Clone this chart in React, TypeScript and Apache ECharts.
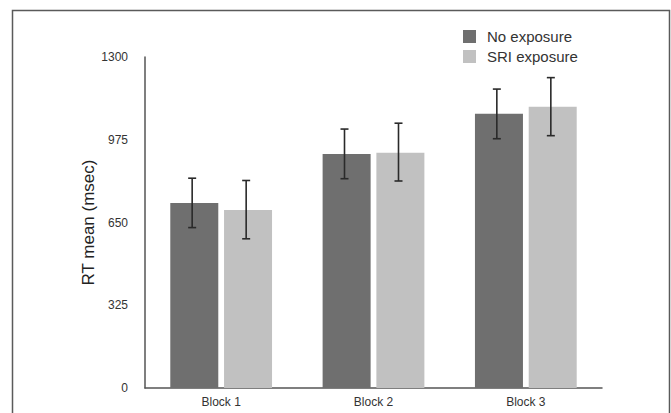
import React, { useEffect, useRef } from "react";
import * as echarts from "echarts";

const categories = ["Block 1", "Block 2", "Block 3"];
const seriesNames = ["No exposure", "SRI exposure"];
const noExposure = [727, 919, 1077];
const sriExposure = [699, 924, 1105];
const noExposureErr = [[630, 824], [822, 1017], [979, 1174]];
const sriExposureErr = [[586, 815], [813, 1040], [991, 1219]];
const yTicks = [0, 325, 650, 975, 1300];

const DARK = "#6f6f6f";
const LIGHT = "#c1c1c1";

export default function App() {
  const ref = useRef<HTMLDivElement>(null);
  useEffect(() => {
    document.body.style.margin = "0";
    const chart = echarts.init(ref.current!, null, { renderer: "svg" });
    const errData: any[] = [];
    noExposureErr.forEach((e, i) => errData.push([i, e[0], e[1], 0]));
    sriExposureErr.forEach((e, i) => errData.push([i, e[0], e[1], 1]));
    const font = "'Liberation Sans', Arial, Helvetica, sans-serif";
    chart.setOption({
      animation: false,
      backgroundColor: "#ffffff",
      graphic: [
        {
          type: "rect",
          shape: { x: 12.5, y: 10.5, width: 657, height: 430 },
          style: { fill: "none", stroke: "#5a5a5a", lineWidth: 1.5 },
          silent: true,
        },
      ],
      grid: { left: 145, right: 69, top: 57, bottom: 25, containLabel: false },
      legend: {
        orient: "vertical",
        left: 463,
        top: 29,
        padding: 0,
        itemWidth: 13,
        itemHeight: 13,
        itemGap: 5,
        icon: "rect",
        data: seriesNames,
        textStyle: {
          fontFamily: font,
          fontSize: 15,
          color: "#333",
          lineHeight: 13,
          padding: [0, 0, 0, 6],
        },
      },
      xAxis: {
        type: "category",
        data: categories,
        axisLine: { lineStyle: { color: "#555", width: 1.5 } },
        axisTick: { show: false },
        axisLabel: { fontFamily: font, fontSize: 12, color: "#333", margin: 8 },
      },
      yAxis: {
        type: "value",
        min: 0,
        max: 1300,
        interval: 325,
        name: "RT mean (msec)",
        nameLocation: "middle",
        nameGap: 48,
        nameMoveOverlap: false,
        nameRotate: 90,
        nameTextStyle: { fontFamily: font, fontSize: 17, color: "#222" },
        axisLine: { show: true, lineStyle: { color: "#555", width: 1.5 } },
        axisTick: { show: false },
        splitLine: { show: false },
        axisLabel: {
          fontFamily: font,
          fontSize: 12,
          color: "#333",
          margin: 17,
          customValues: yTicks,
          formatter: (v: number) => String(v),
        },
      },
      series: [
        {
          name: seriesNames[0],
          type: "bar",
          data: noExposure,
          barWidth: 48,
          barGap: "12%",
          itemStyle: { color: DARK },
        },
        {
          name: seriesNames[1],
          type: "bar",
          data: sriExposure,
          barWidth: 48,
          itemStyle: { color: LIGHT },
        },
        {
          type: "custom",
          data: errData,
          z: 10,
          silent: true,
          renderItem: (params: any, api: any) => {
            const cat = api.value(0);
            const lo = api.coord([cat, api.value(1)]);
            const hi = api.coord([cat, api.value(2)]);
            const s = api.value(3);
            const off = s === 0 ? -27 : 27;
            const x = lo[0] + off - 2;
            const cap = 4;
            const style = { stroke: "#2a2a2a", lineWidth: 1.6 };
            return {
              type: "group",
              children: [
                { type: "line", shape: { x1: x, y1: lo[1], x2: x, y2: hi[1] }, style },
                { type: "line", shape: { x1: x - cap, y1: lo[1], x2: x + cap, y2: lo[1] }, style },
                { type: "line", shape: { x1: x - cap, y1: hi[1], x2: x + cap, y2: hi[1] }, style },
              ],
            };
          },
        },
      ],
    });
    return () => chart.dispose();
  }, []);
  return <div ref={ref} style={{ position: "absolute", left: 0, top: 0, width: 671, height: 413 }} />;
}
